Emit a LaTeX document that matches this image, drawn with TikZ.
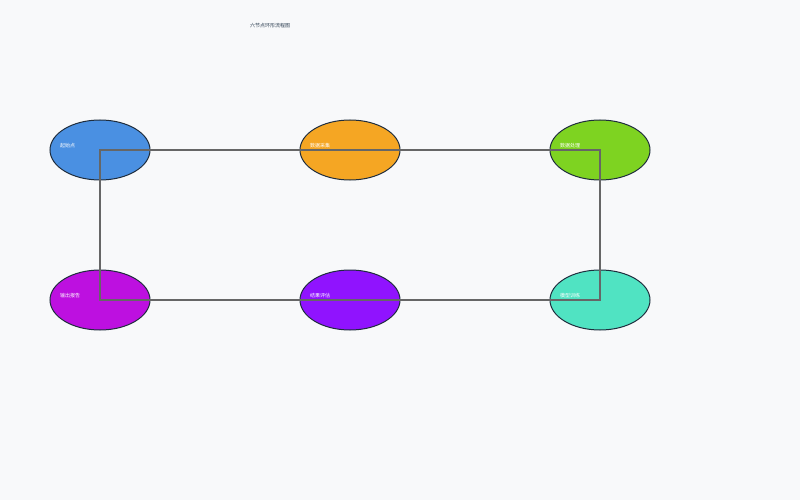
\documentclass[tikz,border=0pt]{standalone}
\usepackage{fontspec}
\newfontfamily\cjk{Noto Sans CJK SC}
\usetikzlibrary{shapes.geometric}
\definecolor{fond}{HTML}{F8F9FA}
\definecolor{contour}{HTML}{1F2D3D}
\definecolor{trait}{HTML}{666666}
\definecolor{titrecol}{HTML}{2C3E50}
\definecolor{bleu}{HTML}{4A90E2}
\definecolor{orange}{HTML}{F5A623}
\definecolor{vert}{HTML}{7ED321}
\definecolor{magenta}{HTML}{BD10E0}
\definecolor{violet}{HTML}{9013FE}
\definecolor{turquoise}{HTML}{50E3C2}
\begin{document}
\begin{tikzpicture}[x=1pt,y=-1pt,
  noeud/.style={ellipse,draw=contour,line width=1pt,minimum width=100pt,minimum height=60pt,inner sep=0pt},
  etiquette/.style={anchor=west,inner sep=0pt,text=white,font=\cjk\fontsize{5}{6}\selectfont},
  titre/.style={anchor=west,inner sep=0pt,text=titrecol,font=\cjk\fontsize{5}{6}\selectfont},
  arete/.style={draw=trait,line width=2pt}]
  % Fond
  \fill[fond] (0,0) rectangle (800,500);
  % Titre
  \node[titre] (titre) at (250,26) {六节点环形流程图};
  % Noeuds
  \node[noeud,fill=bleu] (n1) at (100,150) {};
  \node[noeud,fill=orange] (n2) at (350,150) {};
  \node[noeud,fill=vert] (n3) at (600,150) {};
  \node[noeud,fill=magenta] (n4) at (100,300) {};
  \node[noeud,fill=violet] (n5) at (350,300) {};
  \node[noeud,fill=turquoise] (n6) at (600,300) {};
  % Etiquettes
  \node[etiquette] (e1) at (60,146) {起始点};
  \node[etiquette] (e2) at (310,146) {数据采集};
  \node[etiquette] (e3) at (560,146) {数据处理};
  \node[etiquette] (e4) at (60,296) {输出报告};
  \node[etiquette] (e5) at (310,296) {结果评估};
  \node[etiquette] (e6) at (560,296) {模型训练};
  % Aretes du cycle
  \draw[arete] (n1.center) -- (n2.center) -- (n3.center) -- (n6.center)
    -- (n5.center) -- (n4.center) -- cycle;
\end{tikzpicture}
\end{document}
